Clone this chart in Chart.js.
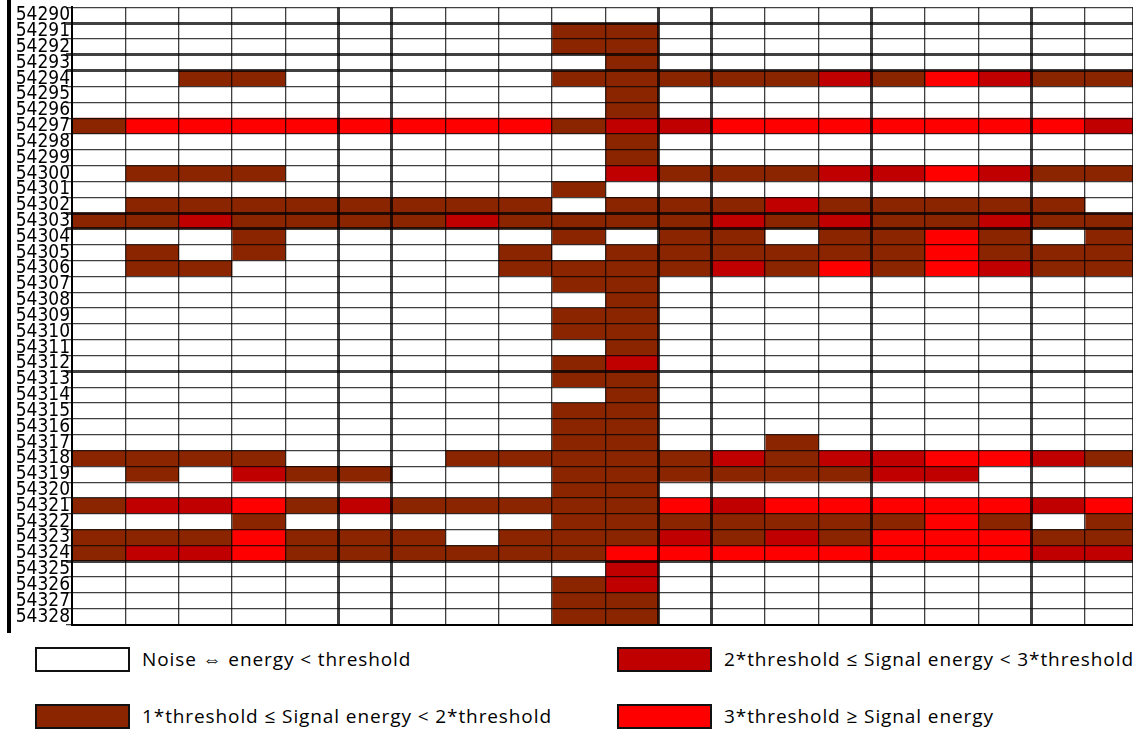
<!DOCTYPE html>
<html>
<head>
<meta charset="utf-8">
<script src="https://cdn.jsdelivr.net/npm/chart.js@4.4.0/dist/chart.umd.min.js"></script>
<style>
    html, body { margin: 0; padding: 0; background: #fff; }
    body { width: 1133px; height: 729px; position: relative; overflow: hidden; }
    #wrap { position: absolute; left: 0; top: 0; width: 1133px; height: 632px; }
    #frame { position: absolute; left: 7px; top: 0; width: 4px; height: 633px; background: #000; }
    .lg { position: absolute; display: flex; align-items: center; font-family: "Open Sans", sans-serif; font-size: 19px; letter-spacing: 0.9px; color: #000; white-space: nowrap; }
    .lg .box { display: inline-block; width: 91px; height: 21px; border: 2px solid #111; margin-right: 12px; }
</style>
</head>
<body>
<div id="wrap"><canvas id="grid" width="1133" height="632"></canvas></div>
<div id="frame"></div>
<div id="legend"></div>

<script>
// row labels (time index), top to bottom
const rowLabels = [
    "54290", "54291", "54292", "54293", "54294", "54295", "54296", "54297", "54298", "54299",
    "54300", "54301", "54302", "54303", "54304", "54305", "54306", "54307", "54308", "54309",
    "54310", "54311", "54312", "54313", "54314", "54315", "54316", "54317", "54318", "54319",
    "54320", "54321", "54322", "54323", "54324", "54325", "54326", "54327", "54328"
];

// energy level per cell: 0 noise, 1 = 1x-2x, 2 = 2x-3x, 3 = >= 3x threshold (20 columns)
const cellLevels = [
    [0,0,0,0,0,0,0,0,0,0, 0,0,0,0,0,0,0,0,0,0], // 54290
    [0,0,0,0,0,0,0,0,0,1, 1,0,0,0,0,0,0,0,0,0],
    [0,0,0,0,0,0,0,0,0,1, 1,0,0,0,0,0,0,0,0,0],
    [0,0,0,0,0,0,0,0,0,0, 1,0,0,0,0,0,0,0,0,0],
    [0,0,1,1,0,0,0,0,0,1, 1,1,1,1,2,1,3,2,1,1],
    [0,0,0,0,0,0,0,0,0,0, 1,0,0,0,0,0,0,0,0,0],
    [0,0,0,0,0,0,0,0,0,0, 1,0,0,0,0,0,0,0,0,0],
    [1,3,3,3,3,3,3,3,3,1, 2,2,3,3,3,3,3,3,3,2], // 54297
    [0,0,0,0,0,0,0,0,0,0, 1,0,0,0,0,0,0,0,0,0],
    [0,0,0,0,0,0,0,0,0,0, 1,0,0,0,0,0,0,0,0,0],
    [0,1,1,1,0,0,0,0,0,0, 2,1,1,1,2,2,3,2,1,1], // 54300
    [0,0,0,0,0,0,0,0,0,1, 0,0,0,0,0,0,0,0,0,0],
    [0,1,1,1,1,1,1,1,1,0, 1,1,1,2,1,1,1,1,1,0],
    [1,1,2,1,1,1,1,2,1,1, 1,1,2,1,2,1,1,2,1,1],
    [0,0,0,1,0,0,0,0,0,1, 0,1,1,0,1,1,3,1,0,1],
    [0,1,0,1,0,0,0,0,1,0, 1,1,1,1,1,1,3,1,1,1], // 54305
    [0,1,1,0,0,0,0,0,1,1, 1,1,2,1,3,1,3,2,1,1],
    [0,0,0,0,0,0,0,0,0,1, 1,0,0,0,0,0,0,0,0,0],
    [0,0,0,0,0,0,0,0,0,0, 1,0,0,0,0,0,0,0,0,0],
    [0,0,0,0,0,0,0,0,0,1, 1,0,0,0,0,0,0,0,0,0],
    [0,0,0,0,0,0,0,0,0,1, 1,0,0,0,0,0,0,0,0,0], // 54310
    [0,0,0,0,0,0,0,0,0,0, 1,0,0,0,0,0,0,0,0,0],
    [0,0,0,0,0,0,0,0,0,1, 2,0,0,0,0,0,0,0,0,0],
    [0,0,0,0,0,0,0,0,0,1, 1,0,0,0,0,0,0,0,0,0],
    [0,0,0,0,0,0,0,0,0,0, 1,0,0,0,0,0,0,0,0,0],
    [0,0,0,0,0,0,0,0,0,1, 1,0,0,0,0,0,0,0,0,0], // 54315
    [0,0,0,0,0,0,0,0,0,1, 1,0,0,0,0,0,0,0,0,0],
    [0,0,0,0,0,0,0,0,0,1, 1,0,0,1,0,0,0,0,0,0],
    [1,1,1,1,0,0,0,1,1,1, 1,1,2,1,2,2,3,3,2,1],
    [0,1,0,2,1,1,0,0,0,1, 1,1,1,1,1,2,2,0,0,0],
    [0,0,0,0,0,0,0,0,0,1, 1,0,0,0,0,0,0,0,0,0], // 54320
    [1,2,2,3,1,2,1,1,1,1, 1,3,2,3,3,3,3,3,2,3],
    [0,0,0,1,0,0,0,0,0,1, 1,1,1,1,1,1,3,1,0,1],
    [1,1,1,3,1,1,1,0,1,1, 1,2,1,2,1,3,3,3,1,1],
    [1,2,2,3,1,1,1,1,1,1, 3,3,3,3,3,3,3,3,2,2],
    [0,0,0,0,0,0,0,0,0,0, 2,0,0,0,0,0,0,0,0,0], // 54325
    [0,0,0,0,0,0,0,0,0,1, 2,0,0,0,0,0,0,0,0,0],
    [0,0,0,0,0,0,0,0,0,1, 1,0,0,0,0,0,0,0,0,0],
    [0,0,0,0,0,0,0,0,0,1, 1,0,0,0,0,0,0,0,0,0]  // 54328
];

const levelColors = ["#ffffff", "#8b2500", "#c00000", "#ff0000"];
const levelNames = [
    "Noise \u21D4 energy < threshold",
    "1*threshold \u2264 Signal energy < 2*threshold",
    "2*threshold \u2264 Signal energy < 3*threshold",
    "3*threshold \u2265 Signal energy"
];

// heavier rules seen in the scanned table
const thickRows = [1, 3, 4, 13, 14, 23, 35];
const thickCols = [5, 6, 11, 12, 15, 18];

const columnCount = cellLevels[0].length;

document.addEventListener("DOMContentLoaded", function () {
    buildLegend();
    drawGrid();
});

function drawGrid() {
    const datasets = [];
    for (let c = 0; c < columnCount; c++) {
        datasets.push({
            data: rowLabels.map(() => [c, c + 1]),
            backgroundColor: rowLabels.map((_, r) => levelColors[cellLevels[r][c]]),
            borderWidth: 0,
            barPercentage: 1,
            categoryPercentage: 1,
            grouped: false
        });
    }

    new Chart(document.getElementById("grid").getContext("2d"), {
        type: "bar",
        data: { labels: rowLabels, datasets: datasets },
        options: {
            indexAxis: "y",
            responsive: false,
            animation: false,
            layout: { padding: { top: 7, left: 0, right: 0, bottom: 1 } },
            plugins: {
                legend: { display: false },
                tooltip: { enabled: false }
            },
            scales: {
                x: {
                    type: "linear",
                    min: 0,
                    max: 19.9,
                    ticks: { display: false, stepSize: 1 },
                    grid: {
                        z: 1,
                        drawTicks: false,
                        color: "rgba(0,0,0,0.75)",
                        lineWidth: (ctx) => (ctx.tick && thickCols.includes(ctx.tick.value)) ? 3 : 1.3
                    },
                    border: { display: true, z: 2, color: "#000", width: 2 }
                },
                y: {
                    type: "category",
                    offset: true,
                    afterFit: (scale) => { scale.width = 72; },
                    ticks: {
                        autoSkip: false,
                        padding: -4,
                        color: "#000",
                        font: { family: "DejaVu Sans Condensed", size: 19 }
                    },
                    grid: {
                        z: 1,
                        offset: true,
                        tickLength: 6,
                        color: "rgba(0,0,0,0.75)",
                        lineWidth: (ctx) => thickRows.includes(ctx.index) ? 3 : 1.3
                    },
                    border: { display: true, z: 2, color: "#000", width: 2 }
                }
            }
        }
    });
}

function buildLegend() {
    // two columns: [noise, 1x] on the left, [2x, 3x] on the right
    const spots = [
        { left: 35, top: 646 },
        { left: 35, top: 703 },
        { left: 617, top: 646 },
        { left: 617, top: 703 }
    ];
    const holder = document.getElementById("legend");
    levelNames.forEach((name, i) => {
        const item = document.createElement("div");
        item.className = "lg";
        item.style.left = spots[i].left + "px";
        item.style.top = spots[i].top + "px";
        const box = document.createElement("span");
        box.className = "box";
        box.style.background = levelColors[i];
        const label = document.createElement("span");
        label.textContent = name;
        item.appendChild(box);
        item.appendChild(label);
        holder.appendChild(item);
    });
}
</script>
</body>
</html>
